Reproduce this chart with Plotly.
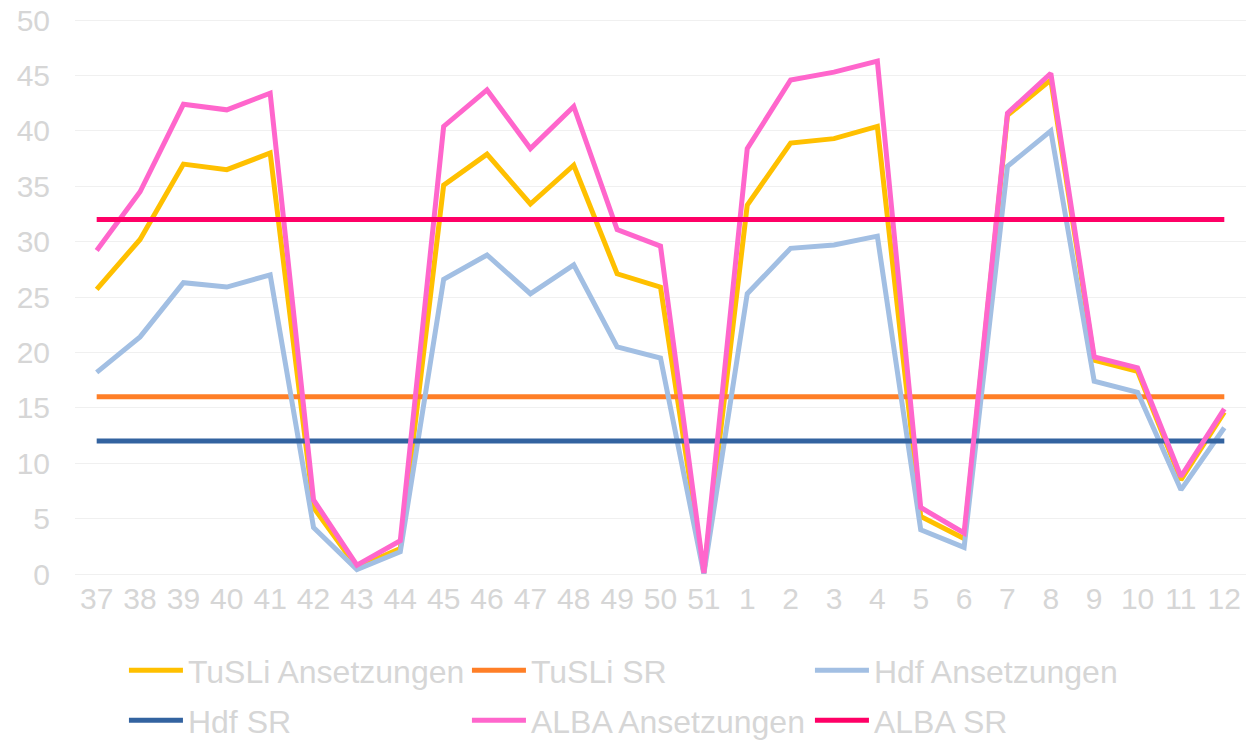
import plotly.graph_objects as go

weeks = ["37", "38", "39", "40", "41", "42", "43", "44", "45", "46", "47", "48", "49", "50", "51",
         "1", "2", "3", "4", "5", "6", "7", "8", "9", "10", "11", "12"]

tusli_ans = [25.7, 30.2, 37.0, 36.5, 38.0, 6.0, 0.6, 2.3, 35.1, 37.9, 33.4, 36.9, 27.1, 25.9, 0.1,
             33.3, 38.9, 39.3, 40.4, 5.2, 3.2, 41.4, 44.6, 19.3, 18.3, 8.5, 14.6]
tusli_sr = [16] * len(weeks)
hdf_ans = [18.2, 21.4, 26.3, 25.9, 27.0, 4.2, 0.4, 2.0, 26.6, 28.8, 25.3, 27.9, 20.5, 19.5, 0.0,
           25.3, 29.4, 29.7, 30.5, 4.0, 2.4, 36.8, 40.0, 17.4, 16.4, 7.6, 13.2]
hdf_sr = [12] * len(weeks)
alba_ans = [29.2, 34.5, 42.4, 41.9, 43.4, 6.7, 0.8, 3.0, 40.4, 43.7, 38.4, 42.2, 31.1, 29.6, 0.1,
            38.4, 44.6, 45.3, 46.3, 6.0, 3.7, 41.6, 45.2, 19.6, 18.6, 8.8, 14.9]
alba_sr = [32] * len(weeks)

series = [
    ("TuSLi Ansetzungen", tusli_ans, "#FFC000", "legend"),
    ("TuSLi SR", tusli_sr, "#FF7F27", "legend"),
    ("Hdf Ansetzungen", hdf_ans, "#A2BFE3", "legend"),
    ("Hdf SR", hdf_sr, "#3363A0", "legend2"),
    ("ALBA Ansetzungen", alba_ans, "#FF66CC", "legend2"),
    ("ALBA SR", alba_sr, "#FF0066", "legend2"),
]

TEXT = "#D6D6D6"
FONT = "Liberation Sans, Arial, sans-serif"

fig = go.Figure()
for name, vals, color, leg in series:
    fig.add_trace(go.Scatter(
        x=weeks, y=vals, name=name, mode="lines",
        line=dict(color=color, width=5),
        legend=leg,
    ))

legend_common = dict(
    orientation="h",
    entrywidth=274, entrywidthmode="pixels",
    itemwidth=54,
    font=dict(family=FONT, size=32, color=TEXT),
    bgcolor="rgba(0,0,0,0)",
    xanchor="left", yanchor="middle",
    traceorder="normal",
)

fig.update_layout(
    width=1246, height=741,
    margin=dict(l=75, r=0, t=19, b=167, autoexpand=False),
    paper_bgcolor="white", plot_bgcolor="white",
    font=dict(family=FONT, size=30, color=TEXT),
    showlegend=True,
    legend=dict(x=0.0418, y=-0.174, **legend_common),
    legend2=dict(x=0.0418, y=-0.264, **legend_common),
    xaxis=dict(
        type="category", range=[-0.5, 26.5],
        showgrid=False, showline=False, zeroline=False, ticks="",
        tickfont=dict(family=FONT, size=30, color=TEXT),
        ticklabelstandoff=4, automargin=False,
    ),
    yaxis=dict(
        range=[0, 50.1], tickvals=[0, 5, 10, 15, 20, 25, 30, 35, 40, 45, 50],
        showgrid=True, gridcolor="#F0F0F0", gridwidth=1,
        zeroline=True, zerolinecolor="#F0F0F0", zerolinewidth=1,
        showline=False, ticks="",
        tickfont=dict(family=FONT, size=30, color=TEXT),
        ticklabelstandoff=24, automargin=False,
    ),
)

fig.write_html(
    "out.html",
    config={"displayModeBar": False},
    post_script="document.body.style.margin='0';",
)
